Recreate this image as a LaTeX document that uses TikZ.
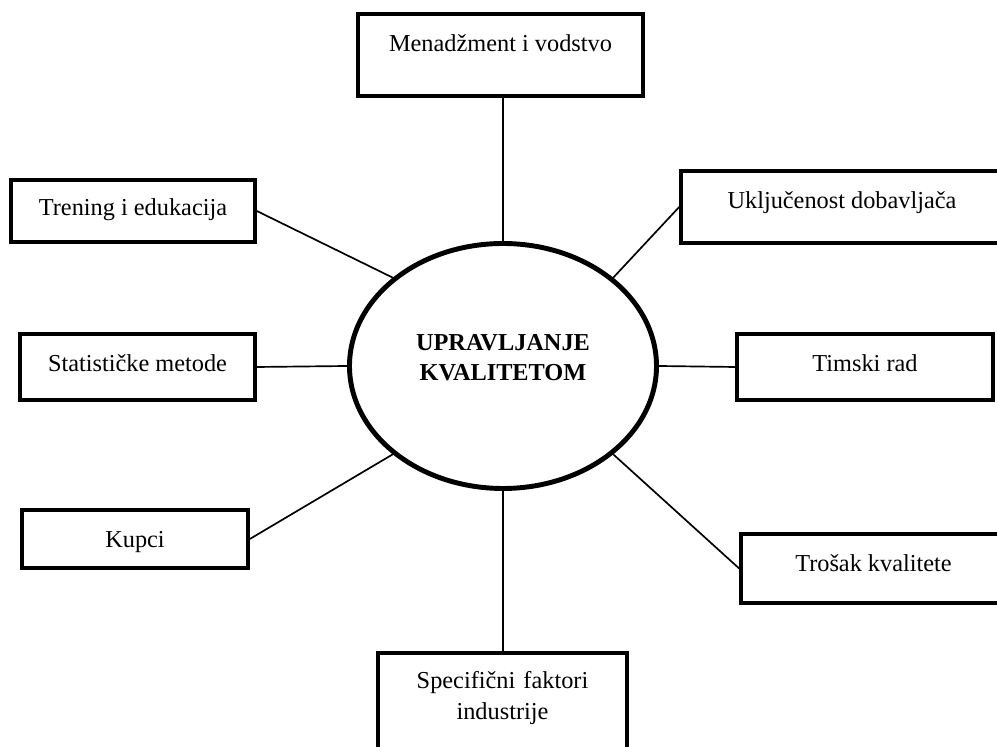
\documentclass[tikz,border=0pt]{standalone}
\usepackage{fontspec}
\setmainfont{Liberation Serif}
\usepackage{tikz}
\usetikzlibrary{positioning,shapes.geometric}

\begin{document}
\begin{tikzpicture}[
  font=\fontsize{17.3pt}{22pt}\selectfont,
  box/.style={draw, line width=2.6pt, inner xsep=0pt, inner ysep=0pt, text height=0.95cm},
  hub/.style={draw, ellipse, line width=3.5pt, inner sep=0pt, minimum width=7.675cm, minimum height=6.125cm, align=center, text width=4.5cm, font=\fontsize{17.3pt}{22pt}\selectfont\bfseries},
  spoke/.style={line width=1.2pt}]
  \useasboundingbox (0,0) rectangle (24.925,18.675);
  \node[hub, text depth=1.2cm] (core) at (12.575,9.525) {UPRAVLJANJE\\ KVALITETOM};
  % boxes round the hub
  \node[box, minimum width=7.125cm, text depth=1.1cm] (menad) at (12.5125,17.3) {Menadžment i vodstvo};
  \node[box, minimum width=6.1cm, text depth=0.65cm, text height=0.9cm] (trening) at (3.325,13.4) {Trening i edukacija};
  \node[box, minimum width=8.05cm, text depth=0.85cm] (ukljuc) at (21.05,13.5) {Uključenost dobavljača};
  \node[box, minimum width=5.875cm, text depth=0.7cm] (statist) at (3.4375,9.5) {Statističke metode};
  \node[box, minimum width=6.4cm, text depth=0.7cm] (timski) at (21.625,9.5) {Timski rad};
  \node[box, minimum width=5.65cm, text depth=0.5cm] (kupci) at (3.375,5.2) {Kupci};
  \node[box, minimum width=6.625cm, text depth=0.775cm] (trosak) at (21.8375,4.4625) {Trošak kvalitete};
  \node[box, minimum width=6.225cm, text width=6.225cm, align=center, text height=0.9cm, text depth=3cm] (specif) at (12.5625,0.4) {Specifični faktori\\ industrije};
  % spokes
  \draw[spoke] (core.north) -- (core.north |- menad.south);
  \draw[spoke] (trening.east) -- (core.north west);
  \draw[spoke] (ukljuc.west) -- (core.north east);
  \draw[spoke] (statist.east) -- (core.west);
  \draw[spoke] (timski.west) -- (core.east);
  \draw[spoke] (kupci.east) -- (core.south west);
  \draw[spoke] (trosak.west) -- (core.south east);
  \draw[spoke] (core.south) -- (core.south |- specif.north);
\end{tikzpicture}
\end{document}
